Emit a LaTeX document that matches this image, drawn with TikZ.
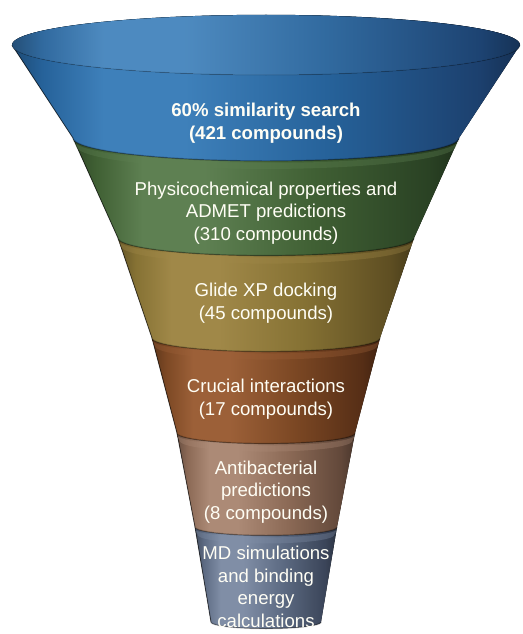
\documentclass[tikz,border=0pt]{standalone}
\usepackage{fontspec}
\setmainfont{Liberation Sans}
\usetikzlibrary{positioning}

% tones of the six bands
\definecolor{bluelight}{RGB}{62,128,186}
\definecolor{bluemid}{RGB}{38,98,154}
\definecolor{bluedark}{RGB}{28,64,110}
\definecolor{greenlight}{RGB}{94,128,82}
\definecolor{greenmid}{RGB}{64,96,52}
\definecolor{greendark}{RGB}{42,66,36}
\definecolor{olivelight}{RGB}{160,136,72}
\definecolor{olivemid}{RGB}{134,114,52}
\definecolor{olivedark}{RGB}{94,78,34}
\definecolor{brownlight}{RGB}{156,96,56}
\definecolor{brownmid}{RGB}{124,72,36}
\definecolor{browndark}{RGB}{86,46,22}
\definecolor{taupelight}{RGB}{172,138,118}
\definecolor{taupemid}{RGB}{140,106,86}
\definecolor{taupedark}{RGB}{98,72,58}
\definecolor{slatelight}{RGB}{128,142,166}
\definecolor{slatemid}{RGB}{92,106,130}
\definecolor{slatedark}{RGB}{58,68,88}

\colorlet{bandlight}{white}
\colorlet{bandmid}{gray}
\colorlet{banddark}{black}
\pgfdeclarehorizontalshading[bandlight,bandmid,banddark]{bandshade}{100bp}{%
  color(0bp)=(bandmid!75!black); color(25bp)=(bandmid!75!black);
  color(28bp)=(bandmid); color(34bp)=(bandlight); color(42bp)=(bandlight);
  color(56bp)=(bandmid); color(71bp)=(banddark); color(75bp)=(banddark!75!black);
  color(100bp)=(banddark!75!black)}

% one band: top y, top half width, bottom y, bottom half width, tone
\newcommand{\funnelband}[5]{%
  \colorlet{bandlight}{#5light}\colorlet{bandmid}{#5mid}\colorlet{banddark}{#5dark}%
  \fill[shading=bandshade]
    (266-#2,#1) -- (266-#4,#3)
    -- plot[domain=180:0] ({266+#4*cos(\t)},{#3+0.119*#4*sin(\t)})
    -- (266+#2,#1)
    -- plot[domain=0:-180] ({266+#2*cos(\t)},{#1+0.119*#2*sin(\t)}) -- cycle;
  % shadow lines
  \draw[black, opacity=0.55, line width=0.9pt] (266-#2,#1) -- (266-#4,#3);
  \draw[black, opacity=0.25, line width=1.4pt]
    plot[domain=180:0] ({266+#4*cos(\t)},{#3+0.119*#4*sin(\t)});}

% lighter rim just under the band above: y, half width, tone
\newcommand{\funnelrim}[3]{%
  \fill[#3light, opacity=0.35]
    plot[domain=180:0] ({266+#2*cos(\t)},{#1+2+0.119*#2*sin(\t)})
    -- plot[domain=0:180] ({266+(#2-3)*cos(\t)},{#1+8+0.119*#2*sin(\t)}) -- cycle;}

\begin{document}
\begin{tikzpicture}[x=1pt, y=-1pt, variable=\t, samples=41,
    stage/.style={text=white!96!yellow, align=center, inner sep=0pt,
      font=\fontsize{18.6}{22.5}\selectfont}]
  \useasboundingbox (0,0) rectangle (522,634);
  % Bands, bottom first so each one sits over the next
  \funnelband{527}{71}{622}{55}{slate}
  \funnelrim{527}{71}{slate}
  \funnelband{433}{89}{527}{71}{taupe}
  \funnelrim{433}{89}{taupe}
  \funnelband{338}{114}{433}{89}{brown}
  \funnelrim{338}{114}{brown}
  \funnelband{238}{148}{338}{114}{olive}
  \funnelrim{238}{148}{olive}
  \funnelband{138}{193}{238}{148}{green}
  \funnelrim{138}{193}{green}
  \funnelband{45}{254}{138}{193}{blue}
  % Opening of the funnel
  \colorlet{bandlight}{bluelight!92!white}\colorlet{bandmid}{bluemid!95!white}\colorlet{banddark}{bluedark!90!bluemid}
  \fill[shading=bandshade] (266,45) ellipse[x radius=254, y radius=30];
  \draw[black, opacity=0.12, line width=1pt]
    plot[domain=180:0] ({266+254*cos(\t)},{45+30*sin(\t)});
  % Labels
  \node[stage, font=\fontsize{18.6}{22.5}\selectfont\bfseries] (similarity) at (266,123)
    {60\% similarity search\\(421 compounds)};
  \node[stage] (admet) at (266,213)
    {Physicochemical properties and\\ADMET predictions\\(310 compounds)};
  \node[stage] (docking) at (266,303) {Glide XP docking\\(45 compounds)};
  \node[stage] (interactions) at (266,399) {Crucial interactions\\(17 compounds)};
  \node[stage] (antibacterial) at (266,492)
    {Antibacterial\\predictions\\(8 compounds)};
  \node[stage] (md) at (266,587)
    {MD simulations\\and binding\\energy\\calculations};
\end{tikzpicture}
\end{document}
